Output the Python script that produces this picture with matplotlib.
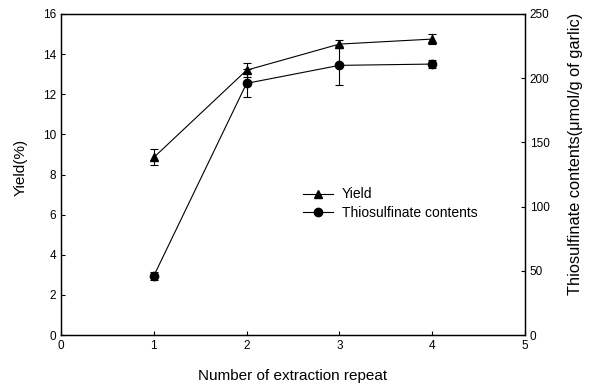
import matplotlib
matplotlib.use('Agg')
import matplotlib.pyplot as plt
from matplotlib.lines import Line2D

plt.rcParams['font.family'] = ['Liberation Sans', 'DejaVu Sans']
plt.rcParams['font.size'] = 8

# Datos
repeats = [1, 2, 3, 4]
yield_pct = [8.85, 13.2, 14.5, 14.75]
yield_err = [0.4, 0.35, 0.2, 0.25]
thio = [46, 196, 210, 211]
thio_err = [3, 11, 15, 3]

fig = plt.figure(figsize=(5.9, 3.87), dpi=100)
ax = fig.add_axes([61/590, 1 - 335/387, (525-61)/590, (335-14)/387])
ax2 = ax.twinx()

ax.errorbar(repeats, yield_pct, yerr=yield_err, color='black', marker='^',
            markersize=6, lw=0.8, elinewidth=0.8, capsize=3, capthick=0.8)
ax2.errorbar(repeats, thio, yerr=thio_err, color='black', marker='o',
             markersize=6, lw=0.8, elinewidth=0.8, capsize=3, capthick=0.8)

ax.set_xlim(0, 5)
ax.set_ylim(0, 16)
ax.set_yticks(range(0, 17, 2))
ax.set_xticks(range(0, 6))
ax2.set_ylim(0, 250)
ax2.set_yticks(range(0, 251, 50))

for a in (ax, ax2):
    a.tick_params(direction='in', length=3, width=0.8, labelsize=8.5)
    for s in a.spines.values():
        s.set_linewidth(0.9)

ax.set_xlabel('Number of extraction repeat', fontsize=11, labelpad=12)
ax.set_ylabel('Yield(%)', fontsize=11)
ax2.set_ylabel('Thiosulfinate contents(\u03bcmol/g of garlic)', fontsize=11.8)
ax.yaxis.set_label_coords(-0.071, 0.523)
ax2.yaxis.set_label_coords(1.093, 0.564)

h = [Line2D([], [], color='black', lw=0.8, marker='^', markersize=6),
     Line2D([], [], color='black', lw=0.8, marker='o', markersize=6)]
ax.legend(h, ['Yield', 'Thiosulfinate contents'], loc='upper left',
          bbox_to_anchor=(0.5, 0.49), frameon=False, fontsize=10,
          handlelength=2.2, handletextpad=0.6, borderpad=0.2, labelspacing=0.35)

fig.savefig('out.png', dpi=100)
